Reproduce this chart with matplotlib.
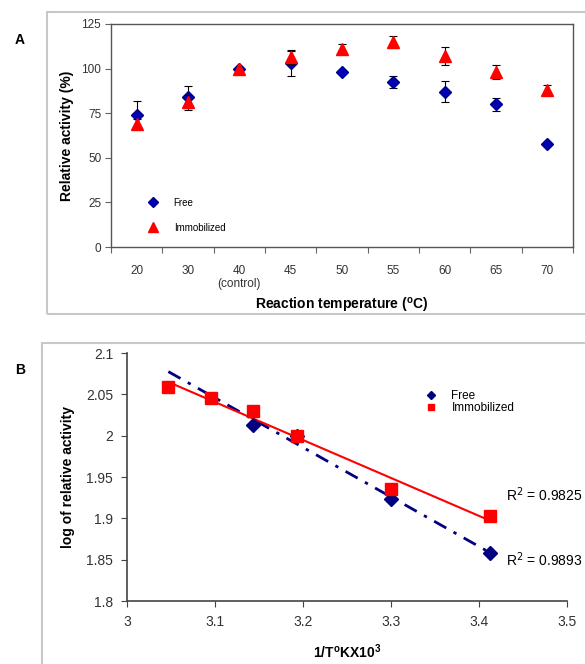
import numpy as np
import matplotlib.pyplot as plt
from matplotlib.patches import Rectangle

plt.rcParams['font.family'] = ['Liberation Sans', 'DejaVu Sans']

# %% data, panel A
temps = ["20", "30", "40\n(control)", "45", "50", "55", "60", "65", "70"]
free = [74, 84, 100, 103, 98, 92.5, 87, 80, 58]
free_err = [8, 6, 0, 7, 1, 3.5, 6, 3.5, 0]
immob = [69, 81, 100, 106.5, 111, 115, 107, 98, 88]
immob_err = [2.5, 4, 0, 4, 3, 3.5, 5, 4, 3]

# %% data, panel B
inv_t_free = [3.143, 3.193, 3.300, 3.413]
log_free = [2.013, 2.000, 1.923, 1.858]
inv_t_immob = [3.047, 3.096, 3.143, 3.193, 3.300, 3.413]
log_immob = [2.059, 2.045, 2.030, 2.000, 1.935, 1.903]
r2_free = 0.9893
r2_immob = 0.9825

W, H = 585, 664
fig = plt.figure(figsize=(W / 100, H / 100), dpi=100)

def px(x0, y0, x1, y1):
    return [x0 / W, 1 - y1 / H, (x1 - x0) / W, (y1 - y0) / H]

# grey frames round the panels
frame_col = "#c8c8c8"
fig.patches.append(Rectangle((47 / W, 1 - 314 / H), 600 / W, 302 / H, transform=fig.transFigure,
                             fill=False, edgecolor=frame_col, lw=1.5))
fig.patches.append(Rectangle((42 / W, -0.1), 600 / W, 0.1 + 1 - 343 / H, transform=fig.transFigure,
                             fill=False, edgecolor=frame_col, lw=1.5))

tick_col = "#333333"

# %% Panel A
ax = fig.add_axes(px(111, 24, 573, 247))
x = np.arange(len(temps)) + 0.5
ax.errorbar(x, free, yerr=free_err, fmt="D", color="#0000b4", mec="#00008b", ms=6.5,
            ecolor="black", elinewidth=0.8, capsize=3, capthick=0.8, label="Free", zorder=3)
ax.errorbar(x, immob, yerr=immob_err, fmt="^", color="#ff0000", mec="#ff0000", ms=8,
            ecolor="black", elinewidth=0.8, capsize=3, capthick=0.8, label="Immobilized", zorder=4)
ax.set_xlim(0, len(temps))
ax.set_ylim(0, 125)
ax.set_yticks(np.arange(0, 126, 25))
ax.set_xticks(np.arange(len(temps) + 1))
ax.set_xticklabels([])
ax.set_xticks(x, minor=True)
ax.set_xticklabels(temps, minor=True, fontsize=8.5, color=tick_col, va="top", linespacing=1.1)
ax.tick_params(axis="x", which="minor", length=0, pad=13)
ax.tick_params(axis="x", which="major", length=4, direction="out", color="#666666")
ax.tick_params(axis="y", labelsize=8.5, labelcolor=tick_col, length=4, color="#666666", pad=3)
for s in ax.spines.values():
    s.set_color("#555555")
    s.set_linewidth(1)
ax.set_ylabel("Relative activity (%)", fontsize=10, fontweight="bold", labelpad=5)
ax.set_xlabel("Reaction temperature ($^{\\mathregular{o}}$C)", fontsize=10, fontweight="bold",
              labelpad=4)
h, l = ax.get_legend_handles_labels()
h = [hh[0] for hh in h]
ax.legend(h, l, loc="lower left", bbox_to_anchor=(0.06, 0.025), frameon=False, fontsize=7,
          handlelength=1.2, handletextpad=1.5, labelspacing=1.55, markerscale=0.85)

# %% Panel B
bx = fig.add_axes(px(127, 353, 567, 601))
bx.plot(inv_t_free, log_free, "D", color="#000080", ms=7.5, label="Free", zorder=3)
bx.plot(inv_t_immob, log_immob, "s", color="#ff0000", ms=8, label="Immobilized", zorder=4)
xs = np.array([min(inv_t_immob), max(inv_t_immob)])
pf = np.polyfit(inv_t_free, log_free, 1)
pi = np.polyfit(inv_t_immob, log_immob, 1)
bx.plot(xs, np.polyval(pf, xs), color="#000080", lw=2, dashes=(5, 3, 1.2, 3), zorder=2)
bx.plot(xs, np.polyval(pi, xs), color="#ff0000", lw=1.5, zorder=2)
bx.set_xlim(3, 3.5)
bx.set_ylim(1.8, 2.1)
bx.set_xticks(np.arange(3, 3.51, 0.1))
bx.set_xticklabels(["3", "3.1", "3.2", "3.3", "3.4", "3.5"])
bx.set_yticks(np.arange(1.8, 2.101, 0.05))
bx.set_yticklabels(["1.8", "1.85", "1.9", "1.95", "2", "2.05", "2.1"])
bx.spines["top"].set_visible(False)
bx.spines["right"].set_visible(False)
for s in ["left", "bottom"]:
    bx.spines[s].set_color("#444444")
    bx.spines[s].set_linewidth(1.2)
bx.tick_params(labelsize=10, labelcolor=tick_col, length=4, color="#444444", pad=6)
bx.set_ylabel("log of relative activity", fontsize=10, fontweight="bold", labelpad=8)
bx.set_xlabel("1/T$^{\\mathregular{o}}$KX10$^{\\mathregular{3}}$", fontsize=10, fontweight="bold", labelpad=10)
bx.legend(loc="upper left", bbox_to_anchor=(0.665, 0.875), frameon=False, fontsize=8.5,
          handlelength=1.0, handletextpad=1.2, labelspacing=0.0, markerscale=0.6, borderpad=0)
bx.text(3.431, 1.928, "R$^2$ = %.4f" % r2_immob, fontsize=10, va="center")
bx.text(3.431, 1.850, "R$^2$ = %.4f" % r2_free, fontsize=10, va="center")

fig.text(15 / W, 1 - 40 / H, "A", fontsize=10, fontweight="bold", va="center")
fig.text(15 / W, 1 - 370 / H, "B", fontsize=10, fontweight="bold", va="center")

fig.savefig("out.png", dpi=100)
